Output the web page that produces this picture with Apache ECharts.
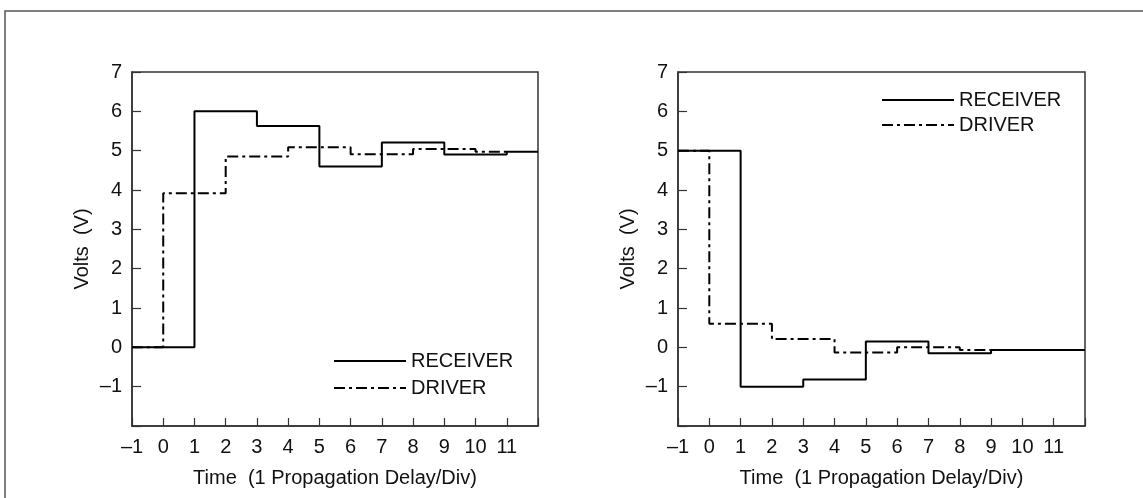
<!DOCTYPE html>
<html>
<head>
<meta charset="utf-8">
<script src="https://cdn.jsdelivr.net/npm/echarts@6/dist/echarts.min.js"></script>
<style>
  html, body { margin: 0; padding: 0; background: #fff; }
  #chart { width: 1143px; height: 498px; }
</style>
</head>
<body>
<div id="chart"></div>
<script>
// left panel: receiver / driver turning on
const leftRecvTime = [-1, 1, 3, 5, 7, 9, 11, 12];
const leftRecvVolts = [0, 6.0, 5.63, 4.6, 5.21, 4.9, 4.97, 4.97];
const leftDrvTime = [-1, 0, 2, 4, 6, 8, 10, 11];
const leftDrvVolts = [0, 3.92, 4.85, 5.09, 4.91, 5.04, 4.97, 4.97];

// right panel: receiver / driver turning off
const rightRecvTime = [-1, 1, 3, 5, 7, 9, 12];
const rightRecvVolts = [5, -1.0, -0.82, 0.15, -0.15, -0.07, -0.07];
const rightDrvTime = [-1, 0, 2, 4, 6, 8, 9];
const rightDrvVolts = [5, 0.6, 0.21, -0.13, 0.0, -0.07, -0.07];

// tick labels, indexed from the axis min
const xTickLabels = ['–1', '0', '1', '2', '3', '4', '5', '6', '7', '8', '9', '10', '11', ''];
const yTickLabels = ['', '–1', '0', '1', '2', '3', '4', '5', '6', '7'];

const seriesNames = ['RECEIVER', 'DRIVER'];

const font = "'Liberation Sans', Arial, sans-serif";
const fontSize = 20;
const ink = '#111';
const frame = '#333';

function pairs(xs, ys) {
  return xs.map((x, i) => [x, ys[i]]);
}

function xAxis(gridIndex) {
  return {
    type: 'value',
    gridIndex: gridIndex,
    min: -1,
    max: 12,
    interval: 1,
    name: 'Time  (1 Propagation Delay/Div)',
    nameLocation: 'middle',
    nameGap: 42,
    nameTextStyle: { fontFamily: font, fontSize: fontSize, color: ink },
    axisLine: { show: true, onZero: false, lineStyle: { color: frame, width: 1.5 } },
    axisTick: { show: true, inside: true, length: 8, lineStyle: { color: frame, width: 1.2 } },
    axisLabel: {
      margin: 11,
      fontFamily: font,
      fontSize: fontSize,
      color: ink,
      formatter: (v) => xTickLabels[Math.round(v) + 1]
    },
    splitLine: { show: false }
  };
}

function yAxis(gridIndex) {
  return {
    type: 'value',
    gridIndex: gridIndex,
    min: -2,
    max: 7,
    interval: 1,
    name: 'Volts  (V)',
    nameLocation: 'middle',
    nameGap: 40,
    nameTextStyle: { fontFamily: font, fontSize: fontSize, color: ink },
    axisLine: { show: true, onZero: false, lineStyle: { color: frame, width: 1.5 } },
    axisTick: { show: true, inside: true, length: 9, lineStyle: { color: frame, width: 1.2 } },
    axisLabel: {
      margin: 10,
      fontFamily: font,
      fontSize: fontSize,
      color: ink,
      formatter: (v) => yTickLabels[Math.round(v) + 2]
    },
    splitLine: { show: false }
  };
}

function stepSeries(name, idx, xs, ys) {
  const solid = name === 'RECEIVER';
  return {
    name: name,
    type: 'line',
    xAxisIndex: idx,
    yAxisIndex: idx,
    step: 'end',
    symbol: 'none',
    silent: true,
    z: solid ? 3 : 2,
    lineStyle: {
      color: '#000',
      width: 2,
      type: solid ? 'solid' : [11, 4, 3, 4]
    },
    data: pairs(xs, ys)
  };
}

function legend(left, top, gap) {
  return {
    data: seriesNames,
    orient: 'vertical',
    left: left,
    top: top,
    itemWidth: 72,
    itemHeight: 14,
    itemGap: gap,
    selectedMode: false,
    itemStyle: { opacity: 0 },
    textStyle: { fontFamily: font, fontSize: fontSize, color: ink, lineHeight: 20 }
  };
}

const chart = echarts.init(document.getElementById('chart'));
chart.setOption({
  animation: false,
  backgroundColor: '#fff',
  graphic: [
    {
      type: 'polyline',
      silent: true,
      shape: { points: [[5, 498], [5, 11], [1143, 11]] },
      style: { stroke: '#555', lineWidth: 1.5, fill: null }
    }
  ],
  grid: [
    { left: 132, top: 72, width: 406, height: 354, show: true, borderColor: frame, borderWidth: 1.5 },
    { left: 678, top: 72, width: 407, height: 354, show: true, borderColor: frame, borderWidth: 1.5 }
  ],
  xAxis: [xAxis(0), xAxis(1)],
  yAxis: [yAxis(0), yAxis(1)],
  legend: [legend(328, 346, 7), legend(876, 85, 5)],
  series: [
    stepSeries('DRIVER', 0, leftDrvTime, leftDrvVolts),
    stepSeries('RECEIVER', 0, leftRecvTime, leftRecvVolts),
    stepSeries('DRIVER', 1, rightDrvTime, rightDrvVolts),
    stepSeries('RECEIVER', 1, rightRecvTime, rightRecvVolts)
  ]
});
</script>
</body>
</html>
